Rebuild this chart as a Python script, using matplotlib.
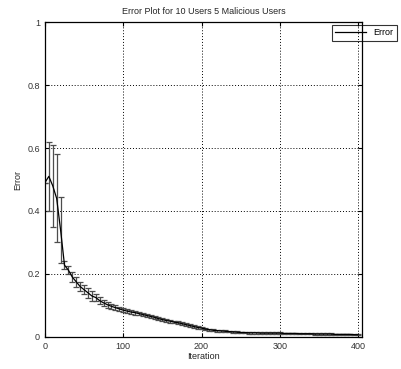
import matplotlib
matplotlib.use('Agg')
import matplotlib.pyplot as plt
from matplotlib.lines import Line2D
import numpy as np

plt.rcParams['font.family'] = ['Liberation Sans', 'DejaVu Sans']

# iterations 0, 5, ..., 400
iterations = np.arange(0, 401, 5)

error_mean = [
    0.49, 0.51, 0.48, 0.44, 0.34, 0.228, 0.212, 0.19, 0.175, 0.16,
    0.15, 0.14, 0.13, 0.125, 0.115, 0.108, 0.102, 0.097, 0.093, 0.089,
    0.085, 0.082, 0.079, 0.077, 0.074, 0.071, 0.068, 0.065, 0.062, 0.058,
    0.055, 0.052, 0.050, 0.047, 0.045, 0.042, 0.039, 0.036, 0.033, 0.030,
    0.028, 0.025, 0.023, 0.021, 0.020, 0.019, 0.018, 0.017, 0.016, 0.015,
    0.014, 0.014, 0.013, 0.013, 0.013, 0.012, 0.012, 0.012, 0.012, 0.012,
    0.012, 0.011, 0.011, 0.011, 0.011, 0.010, 0.010, 0.010, 0.010, 0.009,
    0.009, 0.009, 0.009, 0.009, 0.008, 0.008, 0.008, 0.008, 0.008, 0.007,
    0.007,
]

error_std = [
    0.0, 0.11, 0.13, 0.14, 0.105, 0.012, 0.012, 0.015, 0.015, 0.015,
    0.015, 0.015, 0.015, 0.012, 0.012, 0.010, 0.010, 0.008, 0.008, 0.007,
    0.007, 0.006, 0.006, 0.006, 0.006, 0.005, 0.005, 0.005, 0.005, 0.005,
    0.005, 0.005, 0.005, 0.004, 0.004, 0.004, 0.004, 0.004, 0.004, 0.004,
    0.004, 0.003, 0.003, 0.003, 0.003, 0.003, 0.003, 0.003, 0.003, 0.003,
    0.003, 0.003, 0.003, 0.003, 0.003, 0.002, 0.002, 0.002, 0.002, 0.002,
    0.002, 0.002, 0.002, 0.002, 0.002, 0.002, 0.002, 0.002, 0.002, 0.002,
    0.002, 0.002, 0.002, 0.002, 0.002, 0.002, 0.002, 0.002, 0.002, 0.002,
    0.002,
]

fig = plt.figure(figsize=(4.01, 3.69), dpi=100)
ax = fig.add_axes([0.112, 0.087, 0.791, 0.853])

ax.errorbar(iterations, error_mean, yerr=error_std, color='black',
            ecolor='0.3', elinewidth=0.9, capsize=2.5, capthick=0.9,
            linewidth=0.9)

ax.set_xlim(0, 405)
ax.set_ylim(0, 1)
ax.set_xticks([0, 100, 200, 300, 400])
ax.set_yticks([0, 0.2, 0.4, 0.6, 0.8, 1])
ax.set_yticklabels(['0', '0.2', '0.4', '0.6', '0.8', '1'])
ax.grid(True, linestyle=(0, (1, 2)), color='black', linewidth=0.7)

ax.tick_params(direction='in', top=True, right=True, labelsize=6.5,
               length=3, labelcolor='0.2')
for spine in ax.spines.values():
    spine.set_linewidth(0.9)

ax.set_title("Error Plot for 10 Users 5 Malicious Users", fontsize=6.5,
             color='0.15')
ax.set_xlabel("Iteration", fontsize=6.5, labelpad=1, color='0.15')
ax.set_ylabel("Error", fontsize=6.5, color='0.15')

handle = Line2D([], [], color='black', linewidth=0.9)
leg = ax.legend([handle], ['Error'], loc='upper right',
                bbox_to_anchor=(1.11, 0.992), borderaxespad=0,
                fontsize=6.5, fancybox=False, edgecolor='black',
                facecolor='none', framealpha=None, handlelength=3.4)
leg.get_frame().set_linewidth(0.8)

plt.savefig('out.png', dpi=100)
